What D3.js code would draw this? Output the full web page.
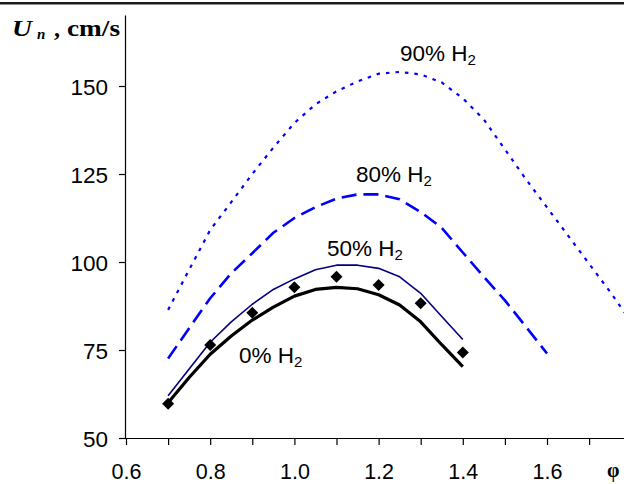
<!DOCTYPE html>
<html>
<head>
<meta charset="utf-8">
<script src="https://cdn.jsdelivr.net/npm/d3@7"></script>
<style>
  body { margin: 0; background: #fff; }
  svg { display: block; }
  .tick text { font-family: 'Liberation Sans', Arial, sans-serif; font-size: 22.5px; fill: #000; }
  .ejeX .tick text { font-size: 21.5px; }
  .serie { font-family: 'Liberation Sans', Arial, sans-serif; font-size: 22.5px; fill: #000; }
  .titulo { font-family: 'Liberation Serif', 'Times New Roman', serif; font-weight: bold; fill: #000; }
</style>
</head>
<body>
<div id="grafica"></div>
<script>
//Datos
const phiCalc = [0.7, 0.75, 0.8, 0.85, 0.9, 0.95, 1.0, 1.05, 1.1, 1.15, 1.2, 1.25, 1.3, 1.35, 1.4,
                 1.45, 1.5, 1.55, 1.6, 1.65, 1.7, 1.75, 1.8]
const un0 = [60, 67.2, 73.8, 79, 83.5, 87.2, 90.3, 92.2, 92.8, 92.4, 90.7, 87.8, 83, 76.5, 70.3]
const un50 = [62, 69.6, 77.2, 83, 88, 92.2, 95.2, 97.8, 99.1, 99.1, 98.2, 95.8, 91.1, 84.5, 78]
const un80 = [72.6, 81.2, 89.7, 96.8, 102.5, 108.3, 112.5, 115.6, 118, 119.2, 119.2, 117.8, 114.2,
              109.7, 102.7, 95.8, 89.1, 81.6, 74]
const un90 = [86.4, 97.8, 109.1, 117, 125, 132.5, 139.5, 144.8, 148.5, 151.3, 153.5, 154, 153.3,
              151, 146.5, 140.5, 132, 123.5, 115.5, 107.5, 99.5, 91.5, 83]
const phiExp = [0.7, 0.8, 0.9, 1.0, 1.1, 1.2, 1.3, 1.4]
const unExp = [59.7, 76.4, 85.6, 92.8, 95.8, 93.5, 88.3, 74.3]
const xTicks = [0.6, 0.7, 0.8, 0.9, 1.0, 1.1, 1.2, 1.3, 1.4, 1.5, 1.6, 1.7, 1.8]
const yTicks = [50, 75, 100, 125, 150]
const etiquetas = ['90% H', '80% H', '50% H', '0% H']

//Constantes
const width = 624
const height = 484

const svg = d3.select('#grafica')
    .append('svg')
    .attr('width', width)
    .attr('height', height)

//Línea superior del marco
svg.append('line')
    .attr('x1', 0).attr('x2', width)
    .attr('y1', 3.3).attr('y2', 3.3)
    .attr('stroke', '#1a1a1a')
    .attr('stroke-width', 2.6)

//Escalas
const x = d3.scaleLinear().domain([0.6, 1.8]).range([126, 631.2])
const y = d3.scaleLinear().domain([50, 170]).range([438, 15.6])

//Ejes
const axisX = d3.axisBottom(x)
    .tickValues(xTicks)
    .tickSize(7)
    .tickFormat(d => (Math.round(d * 10) % 2 === 0 && d < 1.7) ? d3.format('.1f')(d) : '')
svg.append('g')
    .attr('class', 'ejeX')
    .attr('transform', `translate(0, ${y(50)})`)
    .call(axisX)
    .call(g => g.select('.domain').attr('d', `M${x(0.6)},0.5H${x(1.8)}`))
    .call(g => g.selectAll('.tick text').attr('dy', 0).attr('y', 41))

const axisY = d3.axisLeft(y)
    .tickValues(yTicks)
    .tickSize(7)
svg.append('g')
    .attr('transform', `translate(${x(0.6)}, 0)`)
    .call(axisY)
    .call(g => g.select('.domain').attr('d', `M-0.5,${y(170)}V${y(50)}`))
    .call(g => g.selectAll('.tick text').attr('x', -18).attr('dy', '0.36em'))

svg.selectAll('.domain, .tick line').attr('stroke', '#000').attr('stroke-width', 1.2)

//Series calculadas
const linea = d3.line()
    .x((d, i) => x(phiCalc[i]))
    .y(d => y(d))

const series = [
    { datos: un90, color: '#0000ff', ancho: 2.2, guion: '3.5,6' },
    { datos: un80, color: '#0000ff', ancho: 2.6, guion: '15,7' },
    { datos: un50, color: '#000080', ancho: 1.6, guion: null },
    { datos: un0, color: '#000000', ancho: 3.2, guion: null }
]

svg.selectAll('.curva')
    .data(series)
    .enter()
    .append('path')
    .attr('class', 'curva')
    .attr('d', d => linea(d.datos))
    .attr('fill', 'none')
    .attr('stroke', d => d.color)
    .attr('stroke-width', d => d.ancho)
    .attr('stroke-dasharray', d => d.guion)
    .attr('stroke-linejoin', 'round')

//Puntos experimentales
const rombo = d3.symbol(d3.symbolSquare, 72)
svg.selectAll('.exp')
    .data(unExp)
    .enter()
    .append('path')
    .attr('class', 'exp')
    .attr('d', rombo)
    .attr('transform', (d, i) => `translate(${x(phiExp[i])}, ${y(d)}) rotate(45)`)
    .attr('fill', '#000')

//Etiquetas de las series
const posEtiquetas = [[400, 61], [356, 182], [327, 256], [239, 363]]
const textos = svg.selectAll('.serie')
    .data(etiquetas)
    .enter()
    .append('text')
    .attr('class', 'serie')
    .attr('x', (d, i) => posEtiquetas[i][0])
    .attr('y', (d, i) => posEtiquetas[i][1])
textos.append('tspan').text(d => d)
textos.append('tspan')
    .attr('dy', 4)
    .attr('font-size', 15)
    .text('2')

//Título del eje Y
svg.append('text')
    .attr('class', 'titulo')
    .attr('x', 12).attr('y', 36)
    .attr('font-size', 24)
    .attr('font-style', 'italic')
    .attr('textLength', 20).attr('lengthAdjust', 'spacingAndGlyphs')
    .text('U')
svg.append('text')
    .attr('class', 'titulo')
    .attr('x', 37).attr('y', 38.5)
    .attr('font-size', 15)
    .attr('font-style', 'italic')
    .text('n')
svg.append('text')
    .attr('class', 'titulo')
    .attr('x', 54).attr('y', 36)
    .attr('font-size', 24)
    .text(',')
svg.append('text')
    .attr('class', 'titulo')
    .attr('x', 67).attr('y', 36)
    .attr('font-size', 24)
    .attr('textLength', 53).attr('lengthAdjust', 'spacingAndGlyphs')
    .text('cm/s')

//Título del eje X
svg.append('text')
    .attr('class', 'titulo')
    .attr('x', 607)
    .attr('y', 477)
    .attr('font-size', 20)
    .text('φ')
</script>
</body>
</html>
